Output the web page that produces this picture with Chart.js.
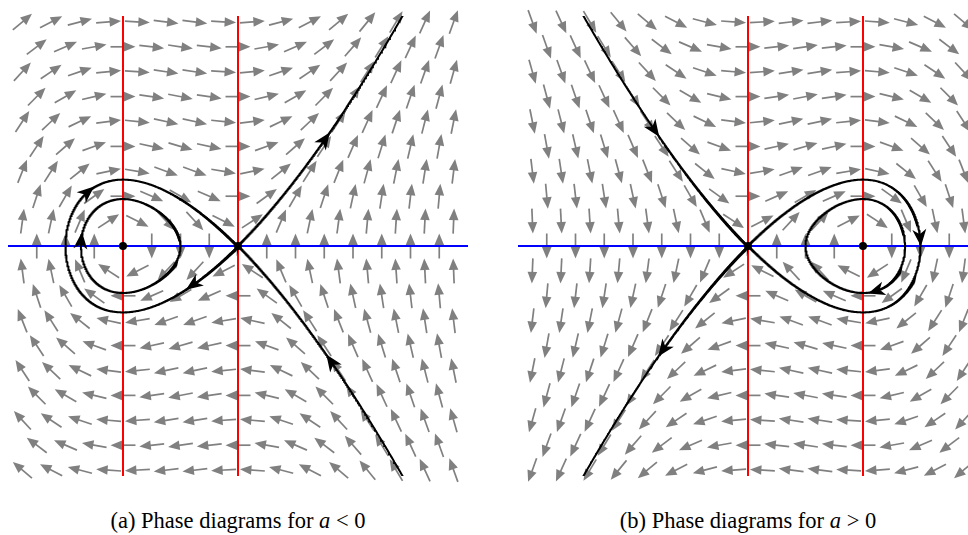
<!DOCTYPE html>
<html>
<head>
<meta charset="utf-8">
<script src="https://cdn.jsdelivr.net/npm/chart.js@4.4.1/dist/chart.umd.min.js"></script>
<style>
    html, body { margin: 0; padding: 0; background: #fff; overflow: hidden; width: 968px; height: 535px; }
    .panel { position: absolute; top: 0; }
    .cap { position: absolute; top: 508px; width: 460px; text-align: center; font-family: 'Liberation Serif', 'DejaVu Serif', serif; font-size: 22.5px; color: #000; }
</style>
</head>
<body>
<canvas id="chartA" class="panel" style="left:0px" width="480" height="490"></canvas>
<canvas id="chartB" class="panel" style="left:510px" width="480" height="490"></canvas>
<div class="cap" style="left:8px">(a) Phase diagrams for <i>a</i> &lt; 0</div>
<div class="cap" style="left:518px">(b) Phase diagrams for <i>a</i> &gt; 0</div>
<script>
// system: x' = y, y' = a x (1 - x)
const paramA = -1;
const paramB = 1;
const xRangeA = [-1, 3];
const xRangeB = [-2, 2];
const yRange = [-2, 2];
const nullclinesX = [0, 1];          // red lines
const fixedPoints = [[0, 0], [1, 0]];
const gridStep = 0.25;               // hex grid spacing of the arrow field
const gridRows = 9;                  // rows above / below y = 0
const orbitStart = [0.5, 0];         // the small closed orbit
// arrowheads on the curves: [curve name, x, y] (approximate place on the curve)
const markersA = [['loop', -0.31, 0.47], ['loop', 0.61, -0.34], ['orbit', -0.37, 0.05],
                  ['unstable1', 1.76, 0.92], ['stable1', 1.83, -0.99]];
const markersB = [['stable1', -0.81, 1.01], ['unstable1', -0.74, -0.9], ['loop', 1.5, 0.07],
                  ['orbit', 1.12, -0.41]];

function field(a, x, y) { return [y, a * x * (1 - x)]; }

function rk4(a, x, y, dt) {
    const k1 = field(a, x, y);
    const k2 = field(a, x + dt / 2 * k1[0], y + dt / 2 * k1[1]);
    const k3 = field(a, x + dt / 2 * k2[0], y + dt / 2 * k2[1]);
    const k4 = field(a, x + dt * k3[0], y + dt * k3[1]);
    return [x + dt / 6 * (k1[0] + 2 * k2[0] + 2 * k3[0] + k4[0]),
            y + dt / 6 * (k1[1] + 2 * k2[1] + 2 * k3[1] + k4[1])];
}

function trace(a, x0, y0, dt, stop) {
    const pts = [{ x: x0, y: y0 }];
    let x = x0, y = y0;
    for (let i = 0; i < 40000; i++) {
        const n = rk4(a, x, y, dt);
        const px = x, py = y;
        x = n[0]; y = n[1];
        pts.push({ x, y });
        if (stop(x, y, px, py, i)) break;
    }
    return pts;
}

function buildCurves(a, xr) {
    const eps = 1e-4, dt = 0.004;
    const saddle = a < 0 ? [1, 0] : [0, 0];
    const out = (x, y) => Math.abs(y) > yRange[1] + 0.05 || x < xr[0] - 0.05 || x > xr[1] + 0.05;
    // homoclinic loop, leaves the saddle towards the centre
    const dirLoop = a < 0 ? [-1, -1] : [1, 1];
    let wentFar = false;
    const loop = trace(a, saddle[0] + eps * dirLoop[0], saddle[1] + eps * dirLoop[1], dt,
        (x, y) => {
            const d = Math.hypot(x - saddle[0], y - saddle[1]);
            if (d > 0.5) wentFar = true;
            return wentFar && d < 0.004;
        });
    loop.unshift({ x: saddle[0], y: saddle[1] });
    loop.push({ x: saddle[0], y: saddle[1] });
    // outer unstable branch
    const dirU = a < 0 ? [1, 1] : [-1, -1];
    const unstable1 = trace(a, saddle[0] + eps * dirU[0], saddle[1] + eps * dirU[1], dt, (x, y) => out(x, y));
    unstable1.unshift({ x: saddle[0], y: saddle[1] });
    // outer stable branch (integrated backwards, then reversed)
    const dirS = a < 0 ? [1, -1] : [-1, 1];
    const stable1 = trace(a, saddle[0] + eps * dirS[0], saddle[1] + eps * dirS[1], -dt, (x, y) => out(x, y)).reverse();
    stable1.push({ x: saddle[0], y: saddle[1] });
    // small closed orbit
    const s = Math.sign(field(a, orbitStart[0], orbitStart[1])[1]);
    const orbit = trace(a, orbitStart[0], orbitStart[1], dt,
        (x, y, px, py, i) => i > 20 && py * s < 0 && y * s >= 0);
    orbit.push({ x: orbitStart[0], y: orbitStart[1] });
    return { loop, unstable1, stable1, orbit };
}

const quiverPlugin = {
    id: 'quiver',
    beforeDatasetsDraw(chart, args, opts) {
        const { ctx, scales: { x: sx, y: sy } } = chart;
        const a = opts.a, xr = opts.xr;
        const L = 25, headLen = 11.5, headW = 4.8;
        ctx.save();
        ctx.strokeStyle = '#808080';
        ctx.fillStyle = '#808080';
        ctx.lineWidth = 1.7;
        const dy = gridStep * Math.sqrt(3) / 2;
        for (let k = -gridRows; k <= gridRows; k++) {
            const yv = k * dy;
            const off = Math.abs(k) % 2 === 1 ? gridStep / 2 : 0;
            const mStart = Math.ceil((xr[0] - off) / gridStep);
            for (let m = mStart; off + m * gridStep <= xr[1]; m++) {
                const xv = off + m * gridStep;
                if (xv <= xr[0] + 1e-9 || xv >= xr[1] - 1e-9) continue;
                const f = field(a, xv, yv);
                const mag = Math.hypot(f[0], f[1]);
                if (mag < 1e-9) continue;
                const ux = f[0] / mag, uy = -f[1] / mag;
                const cx = sx.getPixelForValue(xv), cy = sy.getPixelForValue(yv);
                const x0 = cx - ux * L / 2, y0 = cy - uy * L / 2;
                const x1 = cx + ux * L / 2, y1 = cy + uy * L / 2;
                ctx.beginPath();
                ctx.moveTo(x0, y0);
                ctx.lineTo(x1 - ux * headLen * 0.8, y1 - uy * headLen * 0.8);
                ctx.stroke();
                ctx.beginPath();
                ctx.moveTo(x1, y1);
                ctx.lineTo(x1 - ux * headLen - uy * headW, y1 - uy * headLen + ux * headW);
                ctx.lineTo(x1 - ux * headLen + uy * headW, y1 - uy * headLen - ux * headW);
                ctx.closePath();
                ctx.fill();
            }
        }
        ctx.restore();
    }
};

const markerPlugin = {
    id: 'curveMarks',
    afterDatasetsDraw(chart, args, opts) {
        const { ctx, scales: { x: sx, y: sy } } = chart;
        const len = 17, w = 7;
        ctx.save();
        ctx.fillStyle = '#000';
        opts.marks.forEach(([name, mx, my]) => {
            const pts = opts.curves[name];
            let best = 1, bd = Infinity;
            for (let i = 1; i < pts.length - 1; i++) {
                const d = Math.hypot(pts[i].x - mx, pts[i].y - my);
                if (d < bd) { bd = d; best = i; }
            }
            const j0 = Math.max(0, best - 3), j1 = Math.min(pts.length - 1, best + 3);
            const px = sx.getPixelForValue(pts[best].x), py = sy.getPixelForValue(pts[best].y);
            let ux = sx.getPixelForValue(pts[j1].x) - sx.getPixelForValue(pts[j0].x);
            let uy = sy.getPixelForValue(pts[j1].y) - sy.getPixelForValue(pts[j0].y);
            const n = Math.hypot(ux, uy); ux /= n; uy /= n;
            const tx = px + ux * len / 2, ty = py + uy * len / 2;
            ctx.beginPath();
            ctx.moveTo(tx, ty);
            ctx.lineTo(tx - ux * len - uy * w, ty - uy * len + ux * w);
            ctx.lineTo(tx - ux * len * 0.72, ty - uy * len * 0.72);
            ctx.lineTo(tx - ux * len + uy * w, ty - uy * len - ux * w);
            ctx.closePath();
            ctx.fill();
        });
        ctx.restore();
    }
};

function lineSet(data, color, width) {
    return { data, showLine: true, borderColor: color, borderWidth: width, pointRadius: 0, fill: false, tension: 0 };
}

function makeChart(id, a, xr, marks) {
    const curves = buildCurves(a, xr);
    // chart.js paints the first dataset last, so the top layer goes first
    const datasets = [];
    datasets.push({
        data: fixedPoints.map(p => ({ x: p[0], y: p[1] })),
        pointRadius: 4, backgroundColor: '#000', borderColor: '#000',
        pointBackgroundColor: '#000', pointBorderColor: '#000', pointBorderWidth: 0, showLine: false
    });
    ['loop', 'unstable1', 'stable1', 'orbit'].forEach(k => datasets.push(lineSet(curves[k], '#000000', 2)));
    datasets.push(lineSet([{ x: xr[0], y: 0 }, { x: xr[1], y: 0 }], '#0000ff', 2));
    nullclinesX.forEach(xv => datasets.push(lineSet([{ x: xv, y: yRange[0] }, { x: xv, y: yRange[1] }], '#ff0000', 2)));
    return new Chart(document.getElementById(id).getContext('2d'), {
        type: 'scatter',
        data: { datasets },
        options: {
            responsive: false,
            animation: false,
            events: [],
            layout: { padding: { left: 8, top: 16, right: 12, bottom: 14 } },
            scales: {
                x: { type: 'linear', min: xr[0], max: xr[1], display: false },
                y: { type: 'linear', min: yRange[0], max: yRange[1], display: false }
            },
            plugins: {
                legend: { display: false },
                tooltip: { enabled: false },
                quiver: { a, xr },
                curveMarks: { marks, curves }
            }
        },
        plugins: [quiverPlugin, markerPlugin]
    });
}

makeChart('chartA', paramA, xRangeA, markersA);
makeChart('chartB', paramB, xRangeB, markersB);
</script>
</body>
</html>
